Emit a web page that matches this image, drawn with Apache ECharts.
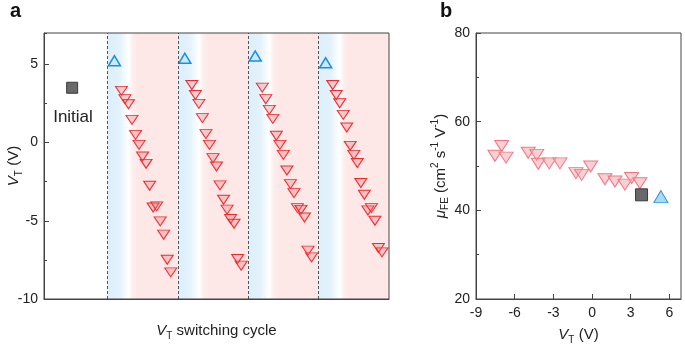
<!DOCTYPE html>
<html>
<head>
<meta charset="utf-8">
<script src="https://cdn.jsdelivr.net/npm/echarts@6/dist/echarts.min.js"></script>
<style>
  html, body { margin: 0; padding: 0; background: #fff; }
  #chart { width: 685px; height: 346px; }
</style>
</head>
<body>
<div id="chart"></div>
<script>
// panel a: switching cycles
var cycleStarts = [1, 2, 3, 4];
var initialA = [0.5, 3.5];
var blueX = [1.1, 2.1, 3.1, 4.1];
var blueVT = [5.23, 5.39, 5.53, 5.1];
var redOffsets = [0.2, 0.25, 0.3, 0.35, 0.4, 0.45, 0.5, 0.55, 0.6, 0.65, 0.7, 0.75, 0.8, 0.85, 0.9];
var redVT1 = [3.30, 2.77, 2.45, 1.45, 0.49, -0.15, -0.89, -1.36, -2.76, -4.15, -4.08, -5.04, -5.89, -7.49, -8.30];
var redVT2 = [3.68, 3.04, 2.47, 1.56, 0.54, -0.15, -1.00, -1.53, -2.74, -3.66, -4.29, -4.89, -5.19, -7.44, -7.87];
var redVT3 = [3.51, 2.77, 2.09, 1.51, 0.43, -0.15, -0.79, -1.79, -2.66, -3.23, -4.19, -4.30, -4.79, -6.91, -7.34];
var redVT4 = [3.68, 3.04, 2.51, 1.77, 0.96, -0.21, -0.79, -1.31, -2.59, -3.34, -4.34, -4.19, -5.00, -6.74, -7.02];

// panel b: mobility vs threshold voltage
var bVT = [-7.01, -7.53, -6.67, -4.95, -4.29, -4.17, -3.32, -2.49, -1.25, -0.81, -0.11, 1.00, 1.78, 2.55, 3.07, 3.71];
var bMu = [54.5, 52.3, 51.9, 53.0, 52.5, 50.5, 50.6, 50.6, 48.4, 48.0, 49.9, 47.0, 46.5, 45.8, 47.3, 46.1];
var initialB = [3.84, 43.5];
var blueB = [5.34, 43.1];

var font = 'Liberation Sans, Arial, sans-serif';
var chart = echarts.init(document.getElementById('chart'));

var redSets = [redVT1, redVT2, redVT3, redVT4];
var redA = [];
redSets.forEach(function (vals, c) {
  vals.forEach(function (v, i) {
    redA.push([cycleStarts[c] + redOffsets[i], v]);
  });
});
var blueA = blueX.map(function (x, i) { return [x, blueVT[i]]; });
var redB = bVT.map(function (x, i) { return [x, bMu[i]]; });

var shade = new echarts.graphic.LinearGradient(0, 0, 1, 0, [
  { offset: 0, color: '#dceffb' },
  { offset: 0.17, color: '#e3f2fc' },
  { offset: 0.3, color: '#ffffff' },
  { offset: 0.36, color: '#fdeeee' },
  { offset: 0.44, color: '#fde7e7' },
  { offset: 1, color: '#fde7e7' }
]);

var rich = {
  i: { fontFamily: font, fontSize: 15, fontStyle: 'italic', color: '#222', lineHeight: 20 },
  n: { fontFamily: font, fontSize: 15, color: '#222', lineHeight: 20 },
  sub: { fontFamily: font, fontSize: 10, color: '#222', verticalAlign: 'bottom', lineHeight: 11 },
  sup: { fontFamily: font, fontSize: 10, color: '#222', verticalAlign: 'top', lineHeight: 11 }
};
var tickLabel = { fontFamily: font, fontSize: 14, color: '#222' };
var lineCol = '#444';

var option = {
  animation: false,
  grid: [
    { left: 44, right: 296, top: 33, bottom: 47, show: true, borderColor: lineCol, borderWidth: 1, z: 10, outerBoundsMode: 'none' },
    { left: 476, right: 4, top: 33, bottom: 47, show: true, borderColor: lineCol, borderWidth: 1, z: 10, outerBoundsMode: 'none' }
  ],
  xAxis: [
    {
      type: 'value', gridIndex: 0, min: 0.1, max: 5, z: 10, position: 'bottom',
      axisLine: { onZero: false, lineStyle: { color: lineCol } },
      axisTick: { show: false }, axisLabel: { show: false }, splitLine: { show: false },
      name: '{i|V}{sub|T}{n| switching cycle}', nameLocation: 'middle', nameGap: 22,
      nameTextStyle: { rich: rich }
    },
    {
      type: 'value', gridIndex: 1, min: -9, max: 6.9, interval: 3, z: 10, position: 'bottom',
      axisLine: { onZero: false, lineStyle: { color: lineCol } },
      axisTick: { inside: true, length: 5, lineStyle: { color: lineCol } },
      axisLabel: Object.assign({ margin: 7, showMaxLabel: false }, tickLabel),
      splitLine: { show: false },
      name: '{i|V}{sub|T}{n| (V)}', nameLocation: 'middle', nameGap: 26,
      nameTextStyle: { rich: rich }
    }
  ],
  yAxis: [
    {
      type: 'value', gridIndex: 0, min: -10, max: 7, interval: 5, z: 10, position: 'left',
      axisLine: { show: true, onZero: false, lineStyle: { color: lineCol } },
      axisTick: { inside: true, length: 5, lineStyle: { color: lineCol } },
      axisLabel: Object.assign({ margin: 6, showMaxLabel: false }, tickLabel),
      splitLine: { show: false },
      name: '{i|V}{sub|T}{n| (V)}', nameLocation: 'middle', nameGap: 20, nameRotate: 90,
      nameMoveOverlap: false,
      nameTextStyle: { rich: rich }
    },
    {
      type: 'value', gridIndex: 0, min: -10, max: 7, interval: 2.5, z: 10, position: 'left',
      axisLine: { show: false, onZero: false },
      axisTick: { inside: true, length: 3, lineStyle: { color: lineCol } },
      axisLabel: { show: false }, splitLine: { show: false }
    },
    {
      type: 'value', gridIndex: 1, min: 20, max: 80, interval: 20, z: 10, position: 'left',
      axisLine: { show: true, onZero: false, lineStyle: { color: lineCol } },
      axisTick: { inside: true, length: 5, lineStyle: { color: lineCol } },
      minorTick: { show: true, splitNumber: 2, length: 3, lineStyle: { color: lineCol } },
      axisLabel: Object.assign({ margin: 6 }, tickLabel),
      splitLine: { show: false },
      name: '{i|μ}{sub|FE}{n| (cm}{sup|2}{n| s}{sup|-1}{n| V}{sup|-1}{n|)}',
      nameLocation: 'middle', nameGap: 24, nameRotate: 90,
      nameTextStyle: { rich: rich }
    }
  ],
  graphic: [
    { type: 'text', left: 10, top: 1, style: { text: 'a', font: 'bold 20px ' + font, fill: '#111' } },
    { type: 'text', left: 440, top: 1, style: { text: 'b', font: 'bold 20px ' + font, fill: '#111' } },
    { type: 'text', x: 73, y: 117, style: { text: 'Initial', font: '17px ' + font, fill: '#222', align: 'center', verticalAlign: 'middle' } }
  ],
  series: [
    {
      type: 'scatter', xAxisIndex: 0, yAxisIndex: 0, data: [],
      markArea: {
        silent: true,
        itemStyle: { color: shade },
        data: cycleStarts.map(function (c) { return [{ xAxis: c }, { xAxis: c + 1 }]; })
      },
      markLine: {
        silent: true, symbol: 'none', label: { show: false },
        lineStyle: { type: [3, 2], color: '#555', width: 1 },
        data: cycleStarts.map(function (c) { return { xAxis: c }; })
      }
    },
    {
      type: 'scatter', xAxisIndex: 0, yAxisIndex: 0, data: [initialA],
      symbol: 'rect', symbolSize: 11,
      itemStyle: { color: '#696969', borderColor: '#3a3a3a', borderWidth: 1, opacity: 1 }
    },
    {
      type: 'scatter', xAxisIndex: 0, yAxisIndex: 0, data: blueA,
      symbol: 'triangle', symbolSize: [12, 10],
      itemStyle: { color: 'rgba(170,220,250,0.35)', borderColor: '#1b8ee0', borderWidth: 1.5, opacity: 1 }
    },
    {
      type: 'scatter', xAxisIndex: 0, yAxisIndex: 0, data: redA,
      symbol: 'triangle', symbolRotate: 180, symbolSize: [12, 9],
      itemStyle: { color: 'rgba(240,110,120,0.3)', borderColor: '#ee2a2a', borderWidth: 1, opacity: 1 }
    },
    {
      type: 'scatter', xAxisIndex: 1, yAxisIndex: 2, data: redB,
      symbol: 'triangle', symbolRotate: 180, symbolSize: [14, 11],
      itemStyle: { color: 'rgba(247,170,178,0.55)', borderColor: '#f27680', borderWidth: 1, opacity: 1 }
    },
    {
      type: 'scatter', xAxisIndex: 1, yAxisIndex: 2, data: [initialB],
      symbol: 'rect', symbolSize: 12,
      itemStyle: { color: '#696969', borderColor: '#3a3a3a', borderWidth: 1, opacity: 1 }
    },
    {
      type: 'scatter', xAxisIndex: 1, yAxisIndex: 2, data: [blueB],
      symbol: 'triangle', symbolSize: [14, 12],
      itemStyle: { color: '#a9dbf5', borderColor: '#2f95d8', borderWidth: 1, opacity: 1 }
    }
  ]
};

chart.setOption(option);
</script>
</body>
</html>
